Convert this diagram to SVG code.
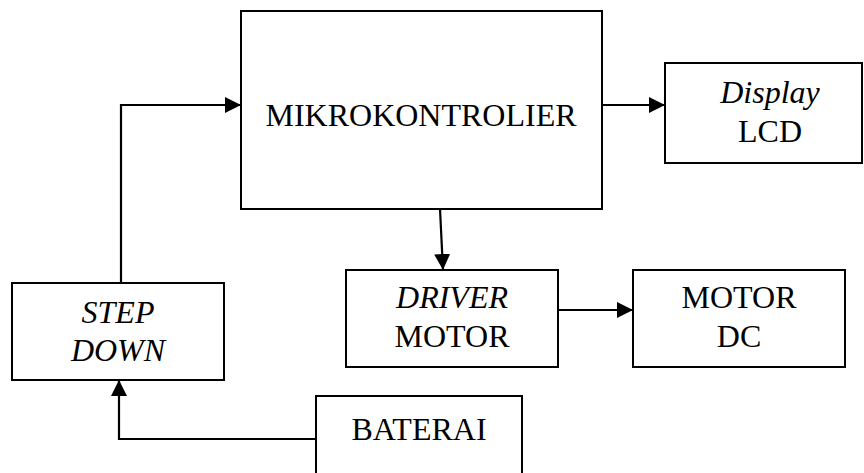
<svg xmlns="http://www.w3.org/2000/svg" width="864" height="473" viewBox="0 0 864 473">
<style>
.box{fill:#fff;stroke:#000;stroke-width:2}
.t{font-family:'Liberation Serif','Times New Roman','DejaVu Serif',serif;font-size:32px;fill:#000;text-anchor:middle}
.i{font-style:italic}
.c{fill:none;stroke:#000;stroke-width:2.2}
</style>
<defs>
<marker id="ah" markerUnits="userSpaceOnUse" markerWidth="16" markerHeight="16" viewBox="0 0 16 16" refX="16" refY="8" orient="auto">
<path d="M0,0 L16,8 L0,16 Z" fill="#000"/>
</marker>
</defs>
<g id="connectors">
<path class="c" d="M121,283 V105 H241" marker-end="url(#ah)"/>
<path class="c" d="M602,105 H665" marker-end="url(#ah)"/>
<path class="c" d="M440,209 L443,270" marker-end="url(#ah)"/>
<path class="c" d="M558,310 H633" marker-end="url(#ah)"/>
<path class="c" d="M316,439 H119 V380" marker-end="url(#ah)"/>
</g>
<g id="mikrokontrolier">
<rect class="box" x="241" y="11" width="361" height="198"/>
<text class="t" x="421" y="126" font-family="Liberation Serif">MIKROKONTROLIER</text>
</g>
<g id="display">
<rect class="box" x="665" y="63" width="197" height="100"/>
<text class="t i" x="770" y="103" font-family="Liberation Serif">Display</text>
<text class="t" x="770" y="142" font-family="Liberation Serif">LCD</text>
</g>
<g id="stepdown">
<rect class="box" x="12" y="283" width="212" height="97"/>
<text class="t i" x="118" y="323" font-family="Liberation Serif">STEP</text>
<text class="t i" x="118" y="361" font-family="Liberation Serif">DOWN</text>
</g>
<g id="driver">
<rect class="box" x="346" y="270" width="212" height="97"/>
<text class="t i" x="452" y="308" font-family="Liberation Serif">DRIVER</text>
<text class="t" x="452" y="347" font-family="Liberation Serif">MOTOR</text>
</g>
<g id="motordc">
<rect class="box" x="633" y="270" width="212" height="97"/>
<text class="t" x="739" y="308" font-family="Liberation Serif">MOTOR</text>
<text class="t" x="739" y="347" font-family="Liberation Serif">DC</text>
</g>
<g id="baterai">
<rect class="box" x="316" y="396" width="206" height="90"/>
<text class="t" x="419" y="440" font-family="Liberation Serif">BATERAI</text>
</g>
</svg>
